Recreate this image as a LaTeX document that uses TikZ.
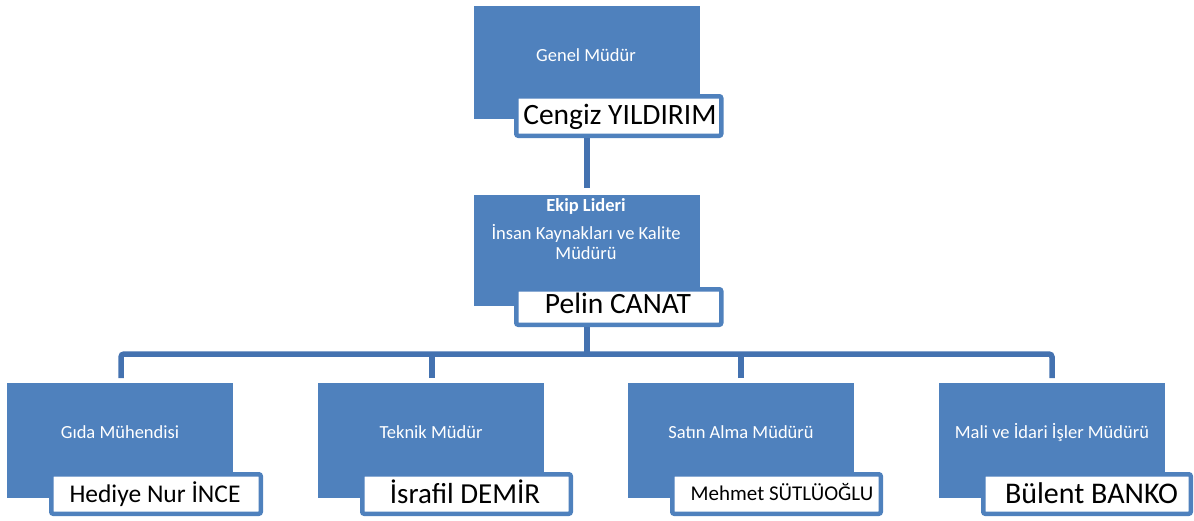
\documentclass[tikz,border=0pt]{standalone}
\usepackage{fontspec}
\setmainfont{Carlito}
\usetikzlibrary{calc}
\definecolor{boxblue}{HTML}{4F81BD}
\definecolor{lineblue}{HTML}{4472B0}
\tikzset{
  bluebox/.style={fill=boxblue, draw=none, anchor=north west, inner sep=0pt, outer sep=0pt, minimum width=226pt},
  namebox/.style={fill=white, draw=boxblue, line width=4.5pt, rounded corners=2pt, anchor=north west, inner sep=0pt, outer sep=0pt, minimum width=205pt, minimum height=39.5pt},
  bluetext/.style={text=white, anchor=base, inner sep=0pt, font=\fontsize{18.5}{20}\selectfont},
  nametext/.style={text=black, anchor=base, inner sep=0pt},
  conn/.style={draw=lineblue, line width=5.5pt, rounded corners=3pt}
}
\begin{document}
\begin{tikzpicture}[x=1pt,y=-1pt]
\useasboundingbox (0,0) rectangle (1194,520);
% blue boxes
\node[bluebox, minimum height=113pt] (gm) at (474,6) {};
\node[bluebox, minimum height=111pt] (ik) at (474,195) {};
\node[bluebox, minimum height=115pt] (b1) at (7,383) {};
\node[bluebox, minimum height=115pt] (b2) at (318,383) {};
\node[bluebox, minimum height=115pt] (b3) at (628,383) {};
\node[bluebox, minimum height=115pt] (b4) at (939,383) {};
% connectors
\coordinate (bus) at (587,354);
\draw[conn, shorten >=7pt] (gm.south) -- (ik.north);
\draw[conn] (ik.south) -- (bus);
\draw[conn] ($(b1.north)+(1,-5)$) |- (bus) -| ($(b4.north)+(0,-5)$);
\draw[conn] ($(b2.north)+(1,-5)$) -- ($(b2.north)+(1,-30)$);
\draw[conn] ($(b3.north)+(0,-5)$) -- ($(b3.north)+(0,-30)$);
% blue box texts
\node[bluetext] (gmt) at (586,61) {Genel Müdür};
\node[bluetext, font=\bfseries\fontsize{18.5}{20}\selectfont] (ikt1) at (586,211) {Ekip Lideri};
\node[bluetext] (ikt2) at (586,239) {İnsan Kaynakları ve Kalite};
\node[bluetext] (ikt3) at (586,259) {Müdürü};
\node[bluetext] (b1t) at (120,438) {Gıda Mühendisi};
\node[bluetext] (b2t) at (431,438) {Teknik Müdür};
\node[bluetext] (b3t) at (741,438) {Satın Alma Müdürü};
\node[bluetext] (b4t) at (1052,438) {Mali ve İdari İşler Müdürü};
% name boxes
\node[namebox, minimum height=39.5pt] (gmn) at (516.25,96.25) {};
\node[namebox, minimum height=35.5pt] (ikn) at (516.25,289.25) {};
\node[namebox, minimum width=209.5pt] (b1n) at (51.25,474.25) {};
\node[namebox, minimum width=208.5pt] (b2n) at (362.25,474.25) {};
\node[namebox, minimum width=208.5pt] (b3n) at (672.25,474.25) {};
\node[namebox, minimum width=207.5pt] (b4n) at (983.25,474.25) {};
% name texts
\node[nametext, font=\fontsize{29.5}{30}\selectfont] (gmnt) at (620,124) {Cengiz YILDIRIM};
\node[nametext, font=\fontsize{29.5}{30}\selectfont] (iknt) at (618,313) {Pelin CANAT};
\node[nametext, font=\fontsize{25.5}{26}\selectfont] (b1nt) at (155,502) {Hediye Nur İNCE};
\node[nametext, font=\fontsize{29}{30}\selectfont] (b2nt) at (465,503) {İsrafil DEMİR};
\node[nametext, font=\fontsize{21}{22}\selectfont] (b3nt) at (782,500) {Mehmet SÜTLÜOĞLU};
\node[nametext, font=\fontsize{30}{30}\selectfont] (b4nt) at (1091.5,503) {Bülent BANKO};
\end{tikzpicture}
\end{document}
